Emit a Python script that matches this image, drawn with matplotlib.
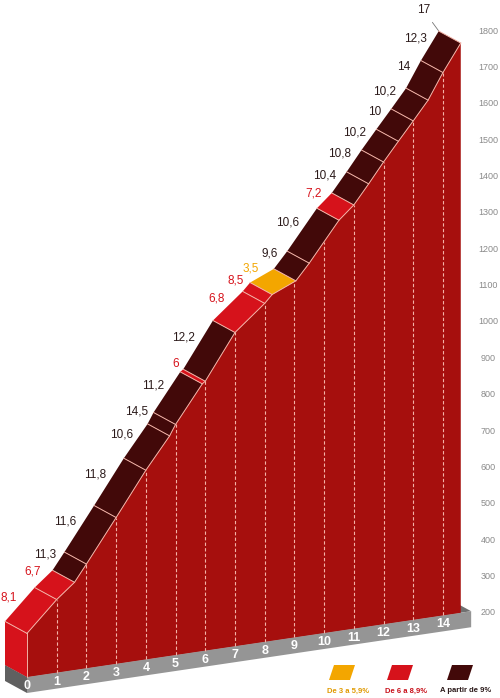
import numpy as np
import matplotlib.pyplot as plt
from matplotlib.patches import Polygon

plt.rcParams['font.family'] = ['Liberation Sans', 'DejaVu Sans']

# gradient of each stretch (%) and the km where that stretch ends
grads = [8.1, 6.7, 11.3, 11.6, 11.8, 10.6, 14.5, 11.2, 6, 12.2, 6.8, 8.5, 3.5, 9.6,
         10.6, 7.2, 10.4, 10.8, 10.2, 10, 10.2, 14, 12.3]
ends = [1, 1.6, 2, 3, 4, 4.8, 5, 5.9, 6, 7, 8, 8.25, 9.05, 9.5, 10.5, 11, 11.5, 12,
        12.5, 13, 13.5, 14, 14.6]
start_alt = 320
max_grad = 17
km_ticks = list(range(15))
alt_ticks = list(range(200, 1900, 100))
legend_labels = ['De 3 a 5,9%', 'De 6 a 8,9%', 'A partir de 9%']

ORANGE = '#f3a600'
RED = '#d6121b'
DARK = '#420909'
FACE = '#a60f0d'
LINE = '#f3b2a6'

# oblique view: pixels per km / per metre, ground tilt and depth of the block
PX_KM = 29.71
PX_M = 0.3635
SLOPE = 4.4 / PX_M          # metres added per km (ground rises to the right)
DX = -22 / PX_KM            # back edge shift, km
DY = 12 / PX_M              # back edge shift, metres
BASE = 200
THICK = 44                  # grey base thickness, metres


def proj(km, alt, d=0.0):
    return km + d * DX, alt + km * SLOPE + d * DY


def colour(g, light=False):
    if g < 6:
        return ORANGE
    if g < 9:
        return RED
    return '#2b1a1a' if light else DARK


starts = [0] + ends[:-1]
alts = [start_alt]
for g, a, b in zip(grads, starts, ends):
    alts.append(alts[-1] + g * (b - a) * 10)
kms = [0] + ends
end_km = ends[-1]

fig = plt.figure(figsize=(5, 6.98), dpi=100)
ax = fig.add_axes([0, 0, 1, 1])
y0 = BASE - 21 / PX_M
ax.set_xlim(-27 / PX_KM, (500 - 27) / PX_KM)
ax.set_ylim(y0, y0 + 698 / PX_M)
ax.axis('off')


def poly(pts, **kw):
    ax.add_patch(Polygon([proj(*p) for p in pts], closed=True, **kw))


# grey base slab
base_end = end_km + 0.35
poly([(0, BASE, 0), (base_end, BASE, 0), (base_end, BASE, 1), (0, BASE, 1)],
     facecolor='#707070', edgecolor='none', zorder=1)
poly([(0, BASE, 0), (0, BASE, 1), (0, BASE - THICK, 1), (0, BASE - THICK, 0)],
     facecolor='#606060', edgecolor='none', zorder=1)
poly([(0, BASE, 0), (base_end, BASE, 0), (base_end, BASE - THICK, 0), (0, BASE - THICK, 0)],
     facecolor='#959595', edgecolor='none', zorder=1)

# profile block
poly([(0, alts[0], 0), (0, alts[0], 1), (0, BASE, 1), (0, BASE, 0)],
     facecolor=RED, edgecolor='none', zorder=2)
front = [(k, a, 0) for k, a in zip(kms, alts)] + [(end_km, BASE, 0), (0, BASE, 0)]
poly(front, facecolor=FACE, edgecolor='none', zorder=2)

for km in km_ticks[1:]:
    top = np.interp(km, kms, alts)
    xs, ys = zip(proj(km, BASE), proj(km, top))
    ax.plot(xs, ys, color=LINE, lw=0.8, ls=(0, (3, 2)), zorder=3)

for i, g in enumerate(grads):
    poly([(kms[i], alts[i], 0), (kms[i + 1], alts[i + 1], 0),
          (kms[i + 1], alts[i + 1], 1), (kms[i], alts[i], 1)],
         facecolor=colour(g), edgecolor='none', zorder=4)

for k, a in zip(kms, alts):
    xs, ys = zip(proj(k, a, 0), proj(k, a, 1))
    ax.plot(xs, ys, color=LINE, lw=0.7, zorder=5)
fx, fy = zip(*[proj(k, a) for k, a in zip(kms, alts)])
ax.plot(fx, fy, color=LINE, lw=0.7, zorder=5)
xs, ys = zip(proj(0, alts[0]), proj(0, BASE))
ax.plot(xs, ys, color=LINE, lw=0.7, zorder=5)

# gradient labels
for i, g in enumerate(grads):
    mid = (kms[i] + kms[i + 1]) / 2
    am = (alts[i] + alts[i + 1]) / 2
    ax.annotate(f'{g:g}'.replace('.', ','), proj(mid, am, 1), xytext=(-2, 5),
                textcoords='offset points', ha='right', va='center',
                fontsize=8.5, color=colour(g, True), zorder=6)

ax.annotate(str(max_grad), proj(end_km, alts[-1], 1), xytext=(-11, 15),
            textcoords='offset points', ha='center', va='center', fontsize=8.5,
            color='#2b1a1a', arrowprops=dict(arrowstyle='-', color='#777777', lw=0.6,
                                             shrinkA=3, shrinkB=0))

# km labels on the base
for km in km_ticks:
    ax.text(*proj(km, BASE - THICK / 2 - 3), str(km), ha='center', va='center',
            fontsize=9, fontweight='bold', color='white', zorder=6)

# altitude labels
xlab = (488 - 27) / PX_KM
for a in alt_ticks:
    ax.text(xlab, proj(end_km, a)[1], str(a), ha='center', va='center',
            fontsize=6.5, color='#8a8a8a')

# legend
for cx, col, lab in zip([342, 400, 460], [ORANGE, RED, DARK], legend_labels):
    pts = [(cx - 13, 680), (cx + 8, 680), (cx + 13, 665), (cx - 8, 665)]
    ax.add_patch(Polygon([(x / 500, 1 - y / 698) for x, y in pts], closed=True,
                         transform=ax.transAxes, facecolor=col, edgecolor='none'))
    tcol = '#e09a00' if col == ORANGE else ('#c8101a' if col == RED else '#2b1a1a')
    ax.text((cx + 6) / 500, 1 - 691 / 698, lab, transform=ax.transAxes, ha='center',
            va='center', fontsize=5.5, fontweight='bold', color=tcol)

fig.savefig('out.png', dpi=100, facecolor='white')
